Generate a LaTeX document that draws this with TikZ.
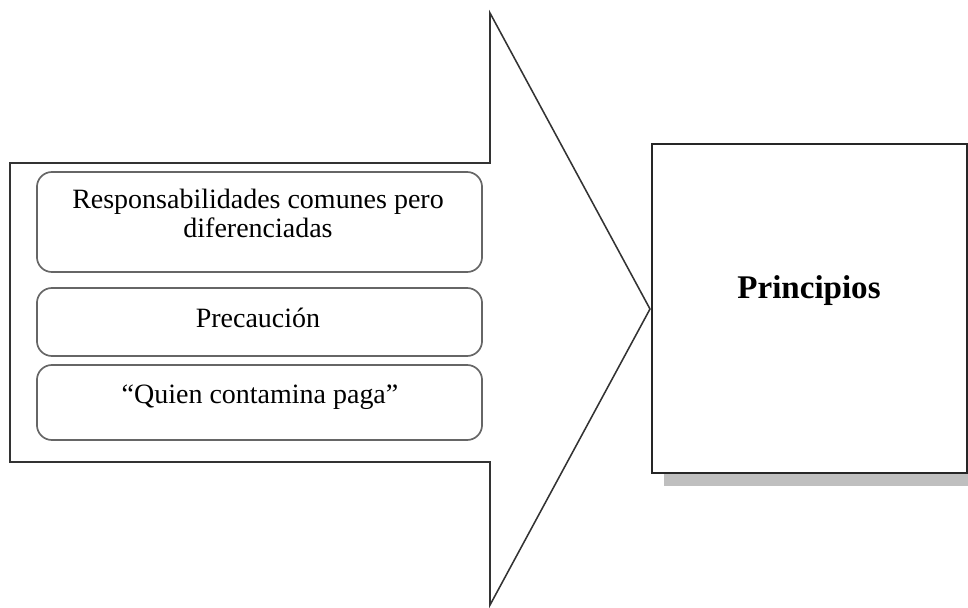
\documentclass[tikz,border=0pt]{standalone}
\usepackage{fontspec}
\setmainfont{Liberation Serif}
\usetikzlibrary{arrows,positioning,shadows}
\begin{document}
\begin{tikzpicture}[x=0.025cm,y=-0.025cm,
				item node/.style={draw=black!60,line width=1.2pt,rounded corners=0.375cm,minimum width=11.125cm,inner sep=0pt},
				text node/.style={font=\fontsize{19.9}{20.9}\selectfont,anchor=base,align=center,inner sep=0pt},
				main node/.style={draw=black!85,line width=1pt,fill=white,minimum width=7.875cm,minimum height=8.225cm,
					drop shadow={shadow xshift=0.3cm,shadow yshift=-0.33cm,fill=black!25,opacity=1}}]
				
				\useasboundingbox (0,0) rectangle (968,607);
				\draw[black!80,line width=1.1pt] (10,163) -- (490,163) -- (490,13) -- (650,309) -- (490,605) -- (490,462) -- (10,462) -- cycle;
				
				\node[item node,minimum height=2.5cm] (1) at (259.5,222) {};
				\node[item node,minimum height=1.7cm] (2) at (259.5,322) {};
				\node[item node,minimum height=1.875cm] (3) at (259.5,402.5) {};
				\node[text node] (1t) at (258,237.5) {Responsabilidades comunes pero\\diferenciadas};
				\node[text node] (2t) at (258,327) {Precaución};
				\node[text node] (3t) at (260,403) {“Quien contamina paga”};
				
				\node[main node] (4) at (809.5,308.5) {};
				\node[text node,font=\fontsize{23.5}{28}\selectfont\bfseries] (4t) at (809,298) {Principios};
				\end{tikzpicture}
\end{document}
